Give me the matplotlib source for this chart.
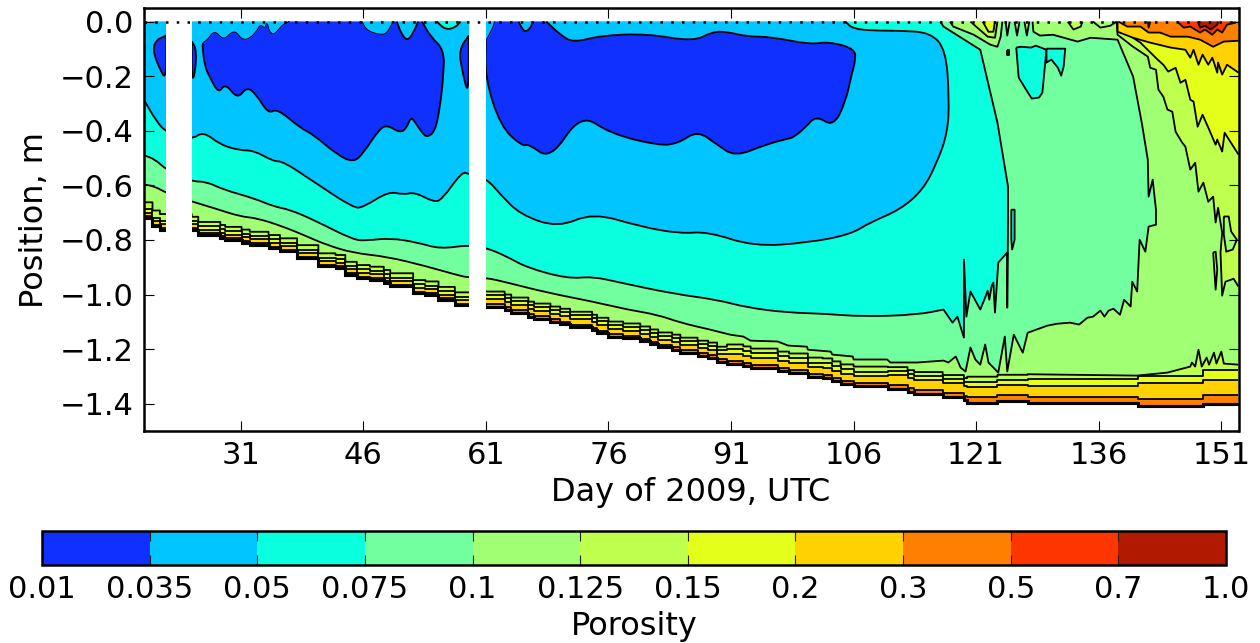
import numpy as np
import matplotlib
matplotlib.use("Agg")
import matplotlib.pyplot as plt
from matplotlib.colors import ListedColormap, BoundaryNorm
from matplotlib.cm import ScalarMappable
from matplotlib.path import Path
from matplotlib.patches import PathPatch

LEVELS = [0.01, 0.035, 0.05, 0.075, 0.1, 0.125, 0.15, 0.2, 0.3, 0.5, 0.7, 1.0]
LEVEL_LABELS = ['0.01', '0.035', '0.05', '0.075', '0.1', '0.125', '0.15', '0.2', '0.3', '0.5', '0.7', '1.0']
COLORS = ['#0f30ff', '#00c5ff', '#0affde', '#72ffa0', '#a0ff72', '#bfff4e',
          '#e4ff1a', '#ffd200', '#ff8000', '#ff3500', '#b21a00']
C_BLUE, C_SKY, C_CYAN, C_GREEN, C_LGREEN, C_LIME, C_YELLOW, C_GOLD, C_ORANGE, C_RED, C_DARK = COLORS

DAY_TICKS = [31, 46, 61, 76, 91, 106, 121, 136, 151]
DEPTH_TICKS = [0.0, -0.2, -0.4, -0.6, -0.8, -1.0, -1.2, -1.4]
XMIN, XMAX = 19.1, 153.1
YMIN, YMAX = -1.5, 0.05
GAPS = [(21.9, 25.0), (58.9, 61.0)]

# Stepped layers near the base of the ice: day of each step and the depth of each contour
STEP_DAYS = [19.1, 20.2, 21.1, 25.0, 25.8, 28.5, 29.1, 31.1, 32.1, 34.4, 35.8, 37.9, 40.5, 42.6, 43.8, 45.2,
             46.8, 48.5, 49.3, 52.1, 53.6, 55.2, 57.2, 60.9, 63.3, 64.1, 66.2, 66.9, 68.9, 70.1, 71.3, 74.0,
             74.6, 76.0, 77.8, 79.9, 81.1, 82.1, 83.8, 84.8, 86.9, 88.2, 89.3, 90.5, 92.5, 93.4, 96.7, 98.1,
             100.4, 102.2, 103.4, 104.4, 106.0, 110.2, 112.6, 113.4, 116.9, 119.5, 119.9, 123.6, 127.3,
             140.8, 148.8]
Z_BOTTOM = [-.720, -.750, -.763, -.763, -.782, -.793, -.800, -.810, -.818, -.830, -.842, -.867, -.897, -.903,
            -.928, -.940, -.946, -.958, -.970, -.995, -1.000, -1.020, -1.040, -1.044, -1.055, -1.066, -1.081,
            -1.088, -1.099, -1.107, -1.118, -1.129, -1.140, -1.154, -1.161, -1.172, -1.183, -1.194, -1.202,
            -1.213, -1.224, -1.231, -1.246, -1.253, -1.260, -1.268, -1.279, -1.286, -1.301, -1.304, -1.315,
            -1.326, -1.334, -1.345, -1.356, -1.363, -1.374, -1.385, -1.396, -1.389, -1.396, -1.407, -1.400]
Z_030 = [-.714, -.744, -.757, -.757, -.776, -.787, -.794, -.804, -.812, -.824, -.836, -.861, -.891, -.897,
         -.922, -.934, -.940, -.952, -.964, -.989, -.994, -1.014, -1.034, -1.036, -1.047, -1.058, -1.073,
         -1.080, -1.091, -1.099, -1.110, -1.121, -1.132, -1.146, -1.153, -1.164, -1.175, -1.186, -1.194,
         -1.205, -1.216, -1.223, -1.238, -1.243, -1.250, -1.258, -1.269, -1.276, -1.291, -1.294, -1.305,
         -1.316, -1.324, -1.332, -1.343, -1.350, -1.361, -1.372, -1.374, -1.367, -1.377, -1.383, -1.367]
Z_020 = [-.700, -.730, -.743, -.743, -.762, -.773, -.780, -.790, -.798, -.810, -.822, -.847, -.877, -.883,
         -.908, -.920, -.926, -.938, -.950, -.975, -.980, -1.000, -1.020, -1.017, -1.028, -1.039, -1.054,
         -1.061, -1.072, -1.080, -1.091, -1.102, -1.113, -1.127, -1.134, -1.145, -1.156, -1.167, -1.175,
         -1.186, -1.197, -1.204, -1.219, -1.218, -1.225, -1.233, -1.244, -1.251, -1.266, -1.269, -1.280,
         -1.291, -1.299, -1.296, -1.307, -1.314, -1.325, -1.336, -1.337, -1.330, -1.334, -1.324, -1.312]
Z_015 = [-.688, -.718, -.731, -.731, -.750, -.761, -.768, -.778, -.786, -.798, -.810, -.835, -.865, -.871,
         -.896, -.908, -.914, -.926, -.938, -.963, -.968, -.988, -1.008, -1.002, -1.013, -1.024, -1.039,
         -1.046, -1.057, -1.065, -1.076, -1.087, -1.098, -1.112, -1.119, -1.130, -1.141, -1.152, -1.160,
         -1.171, -1.182, -1.189, -1.204, -1.201, -1.208, -1.216, -1.227, -1.234, -1.249, -1.252, -1.263,
         -1.274, -1.282, -1.281, -1.292, -1.299, -1.310, -1.321, -1.319, -1.312, -1.311, -1.300, -1.275]
Z_0125 = [-.662, -.692, -.705, -.715, -.734, -.745, -.752, -.762, -.770, -.782, -.794, -.819, -.849, -.855,
          -.880, -.892, -.898, -.910, -.922, -.947, -.952, -.972, -.992, -.989, -1.000, -1.011, -1.026,
          -1.033, -1.044, -1.052, -1.063, -1.074, -1.085, -1.099, -1.106, -1.117, -1.128, -1.139, -1.147,
          -1.158, -1.169, -1.176, -1.191, -1.183, -1.190, -1.198, -1.209, -1.216, -1.231, -1.234, -1.245,
          -1.256, -1.264, -1.266, -1.277, -1.284, -1.295, -1.306, -1.301, -1.294]
Z_0125_LATE = [(127.3, -1.292), (140.7, -1.297), (144.4, -1.286), (147.2, -1.264), (147.4, -1.249), (147.8, -1.264),
               (148.2, -1.202), (148.6, -1.264), (149.2, -1.231), (149.5, -1.257), (150.1, -1.213), (150.4, -1.253),
               (151.0, -1.209), (151.3, -1.253), (153.1, -1.257)]

# Contours read as (day, depth)
CURVE_01 = [(19.1, -.596), (20.5, -.604), (21.9, -.628), (25, -.659), (27.7, -.683), (30.9, -.714), (33, -.72),
            (36.2, -.751), (39.1, -.787), (41.5, -.818), (44.8, -.848), (48.9, -.861), (53.8, -.897), (57.4, -.928),
            (58.9, -.938), (61, -.938), (63.6, -.956), (68.5, -.993), (74.1, -1.026), (78.3, -1.055), (82, -1.074),
            (84.8, -1.103), (88.5, -1.129), (90.9, -1.147), (92.5, -1.154), (93.4, -1.169), (96.7, -1.172),
            (98, -1.187), (100.3, -1.191), (100.4, -1.202), (103.2, -1.209), (103.4, -1.22), (105.9, -1.227),
            (106, -1.238), (110.1, -1.238), (110.5, -1.249), (113.8, -1.249), (117, -1.242), (117.6, -1.249),
            (118.5, -1.227), (119.1, -1.268), (119.7, -1.282), (120.3, -1.194), (120.9, -1.238), (121.5, -1.257),
            (122.1, -1.183), (122.5, -1.249), (123.7, -1.286), (124.5, -1.154), (124.8, -1.282), (125.6, -1.147),
            (126.7, -1.213), (127.3, -1.14), (129.7, -1.114), (130.9, -1.107), (132.5, -1.103), (133.6, -1.11),
            (134.6, -1.085), (135.3, -1.081), (136.2, -1.059), (136.7, -1.081), (137.2, -1.059), (137.8, -1.052),
            (138.6, -1.074), (139.1, -1.019), (139.9, -1.044), (140.1, -.953), (140.7, -.989), (141, -.799),
            (141.7, -.843), (142.1, -.751), (143, -.744), (143, -.689), (142.6, -.579), (142.1, -.641), (142, -.506),
            (141.3, -.377), (140.2, -.201), (138.3, -.066), (135, -.059), (133.4, -.073), (130.4, -.048),
            (128.8, -.051), (128, -.037), (127.9, 0)]
TOP_LG = [(117.8, 0), (118.2, -.018), (120.7, -.048), (122.7, -.084), (123.6, -.092), (124, -.055), (124.2, 0)]
TOP_FINGER_1 = [(124.6, 0), (124.8, -.051), (125.1, 0)]
TOP_FINGER_2 = [(125.7, 0), (126, -.051), (126.3, 0)]
TOP_FINGER_3 = [(126.9, 0), (127.2, -.051), (127.5, 0)]
TOP_LIME_1 = [(120.3, 0), (122.4, -.055), (123.3, -.059), (123.6, 0)]
TOP_YELLOW = [(121.8, 0), (122.5, -.037), (123.1, -.037), (123.3, 0)]
TOP_LIME_2 = [(132.2, 0), (132.9, -.029), (133.8, -.018), (134, 0)]
TOP_LIME_3 = [(135.3, 0), (136.2, -.022), (137.4, -.015), (138.2, 0)]

CURVE_0125 = [(138.2, 0), (138.3, -.048), (140.2, -.092), (142, -.128), (142.3, -.169), (143, -.176), (143.3, -.249),
              (143.9, -.275), (144.4, -.322), (145, -.33), (145.4, -.403), (146.2, -.443), (146.6, -.458),
              (147.2, -.542), (147.8, -.517), (148.2, -.623), (148.8, -.59), (149.4, -.66), (150, -.641),
              (150.3, -.736), (150.6, -.682), (151.1, -.773), (150.9, -.846), (151.1, -1.004), (151.5, -.953),
              (152.5, -.942), (153.1, -.971)]
ISLAND_LG = [(151.3, -.714), (151.9, -.714), (152.2, -.769), (152.9, -.799), (152.4, -.835), (151.6, -.843), (151.3, -.78)]
ISLAND_LIME = [(150, -.846), (150.3, -.982), (150.5, -.909), (150.3, -.843)]
CURVE_015 = [(138.3, 0), (138.3, -.022), (141.1, -.077), (143.2, -.139), (143.9, -.158), (144.5, -.183), (145.4, -.169),
             (146, -.224), (146.6, -.213), (147.2, -.286), (147.6, -.293), (148.1, -.385), (148.7, -.341),
             (149.4, -.388), (150.3, -.451), (150.5, -.432), (151.1, -.476), (151.4, -.407), (152.1, -.44), (153.1, -.487)]
CURVE_02 = [(138.3, 0), (138.3, -.037), (140.2, -.059), (142.3, -.077), (144.8, -.095), (146.6, -.103), (147.2, -.132),
            (147.6, -.103), (148.2, -.158), (148.7, -.121), (149.4, -.158), (149.9, -.132), (150.5, -.187),
            (150.6, -.15), (151.1, -.194), (151.7, -.158), (153.1, -.187)]
CURVE_03 = [(138.4, 0), (139.5, -.018), (141.1, -.018), (142.1, -.04), (143.5, -.04), (144.8, -.055), (146.9, -.055),
            (148.4, -.066), (150, -.092), (151.3, -.073), (153.1, -.07)]
RED_SPOT = [(142, 0), (142.1, -.022), (142.3, 0)]
CURVE_05 = [(145.6, 0), (146.4, -.022), (147.2, -.018), (148.4, -.04), (149, -.029), (149.9, -.048), (150.5, -.029),
            (151.1, -.04), (151.7, -.011), (152.7, -.004), (152.7, 0)]
CURVE_07 = [(148.1, 0), (148.4, -.022), (149, -.015), (149.7, -.029), (150.5, -.011), (150.6, 0)]

CURVE_0075 = [(19.1, -.489), (20.5, -.504), (21.9, -.543), (25, -.586), (26.8, -.586), (28.9, -.616), (32.6, -.647),
              (35, -.677), (37, -.689), (39.9, -.726), (44.8, -.8), (46.4, -.802), (49.3, -.793), (52.6, -.809),
              (55.4, -.833), (58.9, -.818), (61, -.828), (63.6, -.861), (66, -.901), (71, -.942), (74.1, -.934),
              (77.4, -.956), (83.9, -.997), (89.3, -1.019), (93, -1.048), (97.9, -1.066), (102.3, -1.07),
              (107.2, -1.081), (113.8, -1.074), (117, -1.055), (118.1, -1.103), (118.7, -1.081), (119.5, -1.158),
              (119.5, -.872), (119.8, -1.081), (120.3, -.989), (121.5, -1.055), (122.1, -1.011), (122.4, -.986),
              (122.6, -1.019), (122.9, -.967), (123.1, -.956), (123.3, -1.066), (123.7, -.883), (124.8, -.846),
              (124.8, -1.048), (124.9, -.725), (124.9, -.605), (123.6, -.37), (121.5, -.103), (117, -.018), (116.6, 0)]
BLOB_CYAN_1 = [(125.3, -.689), (125.7, -.689), (125.7, -.799), (125.4, -.835), (125.3, -.799)]
BLOB_CYAN_2 = [(125.9, -.095), (126.5, -.092), (127.7, -.095), (128.3, -.088), (129.6, -.103), (129.1, -.26),
               (128.7, -.278), (127.8, -.282), (127.1, -.249), (126.2, -.205)]
BLOB_CYAN_3 = [(129.6, -.099), (131.9, -.099), (131.7, -.165), (131.4, -.198), (131, -.169), (130.2, -.139), (129.6, -.15)]
BLOB_CYAN_4 = [(124.8, -.103), (125, -.103), (125, -.121), (124.8, -.121)]

CURVE_005 = [(19.1, -.284), (20.7, -.366), (21.9, -.406), (25, -.433), (26.4, -.402), (28.5, -.451), (30.9, -.472),
             (32.6, -.472), (35, -.512), (36.2, -.512), (39.9, -.586), (44.8, -.683), (46, -.68), (49.1, -.622),
             (50.9, -.634), (52.3, -.625), (54.6, -.661), (55.6, -.653), (58.1, -.549), (58.9, -.559), (61.1, -.575),
             (62.8, -.634), (65.2, -.707), (69.8, -.755), (74.1, -.7), (79.9, -.751), (84.8, -.777), (88.1, -.769),
             (93.8, -.824), (100.4, -.81), (105.6, -.78), (108, -.736), (111.7, -.689), (114.5, -.616), (116.2, -.517),
             (117.5, -.407), (117.7, -.286), (117.3, -.103), (115.4, -.04), (111.7, -.033), (108.4, -.033),
             (105.9, -.026), (105, 0)]
PATCH_CYAN = [(55, 0), (56, -.029), (57.2, -.023), (57.9, 0)]

BLOB_DARK_1 = [(21.9, -.05), (21.5, -.057), (20.7, -.066), (20.2, -.103), (21.1, -.176), (21.9, -.213)]
BLOB_DARK_2 = [(25, -.072), (25.6, -.103), (25.4, -.194), (25, -.215)]
BLOB_DARK_3 = [(26.4, -.078), (27, -.066), (27.8, -.032), (28.9, -.072), (30.2, -.029), (31.1, -.068), (32.1, -.064),
               (33, -.035), (33.4, -.011), (34, -.029), (34.2, 0), (34.4, -.035), (35, -.051), (35.7, -.029),
               (36.2, -.011), (37, 0), (45.8, 0), (46.4, -.035), (48.3, -.051), (48.9, -.042), (49.3, -.023),
               (49.7, 0), (50.1, 0), (50.7, -.048), (51.4, -.07), (52.1, -.042), (52.7, 0), (53.2, 0), (54.2, -.054),
               (55.9, -.103), (55.8, -.2), (55.4, -.31), (54.8, -.402), (53.8, -.424), (53.2, -.408), (52.3, -.366),
               (51.8, -.35), (51.3, -.39), (50.5, -.408), (48.9, -.378), (47.9, -.396), (46, -.482), (44.8, -.516),
               (42.8, -.488), (39.9, -.414), (38.3, -.39), (35.4, -.317), (34.4, -.339), (32.8, -.262), (31.7, -.24),
               (30.6, -.284), (29.1, -.225), (28.3, -.264), (27.2, -.203), (26.6, -.164), (26.3, -.09)]
BLOB_DARK_4 = [(58.9, -.051), (57.7, -.103), (58.1, -.182), (58.9, -.276)]
BLOB_DARK_5 = [(61, -.073), (61.9, -.022), (62.1, 0), (65, 0), (65.5, -.029), (65.9, -.037), (66.5, -.022), (66.7, 0),
               (68.4, 0), (70.1, -.048), (71.7, -.077), (75, -.051), (80.7, -.044), (86.4, -.073), (88.7, -.037),
               (90.5, -.037), (93, -.055), (95.8, -.055), (100.7, -.084), (102.9, -.073), (106.2, -.099),
               (106.2, -.147), (105.8, -.187), (105, -.297), (103.5, -.385), (101.4, -.344), (100.1, -.388),
               (98.6, -.425), (97.9, -.429), (95.2, -.451), (91.5, -.495), (89.3, -.451), (86.9, -.399), (84.5, -.447),
               (82.1, -.454), (76.2, -.41), (72.6, -.337), (68.9, -.506), (66.2, -.447), (65.5, -.458), (62.8, -.385),
               (60.9, -.205)]

plt.rcParams['font.family'] = 'DejaVu Sans'
W, H = 1260, 643
fig = plt.figure(figsize=(W / 100, H / 100), dpi=100)
ax = fig.add_axes([143.5 / W, 1 - 431.0 / H, (1238.5 - 143.5) / W, (431.0 - 8.0) / H])
ax.set_xlim(XMIN, XMAX)
ax.set_ylim(YMIN, YMAX)
ax.set_axisbelow(False)

order = [1.0]


def next_z():
    order[0] += 0.005
    return order[0]


def stair(days, depths, end):
    pts = []
    for i, z in enumerate(depths):
        stop = days[i + 1] if i + 1 < len(days) else end
        pts += [(days[i], z), (stop, z)]
    return pts


def run_path(run, smooth_until):
    """Vertices and codes of one contour run; vertices before smooth_until act as spline controls."""
    verts, codes = [run[0]], [Path.MOVETO]
    k = 0
    if smooth_until is not None:
        while k + 1 < len(run) and run[k + 1][0] <= smooth_until:
            k += 1
    if smooth_until == np.inf:
        k = len(run) - 1
    if k >= 2:
        mid = lambda a, b: ((a[0] + b[0]) / 2, (a[1] + b[1]) / 2)
        verts.append(mid(run[0], run[1]))
        codes.append(Path.LINETO)
        for i in range(1, k):
            verts += [run[i], mid(run[i], run[i + 1])]
            codes += [Path.CURVE3, Path.CURVE3]
        verts.append(run[k])
        codes.append(Path.LINETO)
        rest = run[k + 1:]
    else:
        rest = run[1:]
    for p in rest:
        verts.append(p)
        codes.append(Path.LINETO)
    return verts, codes


def region(pts, color, closure=(), closed=False, lw=1.3, smooth_until=None):
    """Fill a contour band and stroke its contour, leaving the surface line unstroked."""
    line = list(pts) + ([pts[0]] if closed else [])
    runs, cur = [], [line[0]]
    for a, b in zip(line[:-1], line[1:]):
        if a[1] == 0 and b[1] == 0:
            runs.append(cur)
            cur = [b]
        else:
            cur.append(b)
    runs.append(cur)
    fill_v, fill_c = [], []
    for run in runs:
        if len(run) < 2:
            fill_v.append(run[0])
            fill_c.append(Path.MOVETO if not fill_v[:-1] else Path.LINETO)
            continue
        v, c = run_path(run, smooth_until)
        if fill_v:
            c = [Path.LINETO] + c[1:]
        fill_v += v
        fill_c += c
        s_v, s_c = run_path(run, smooth_until)
        ax.add_patch(PathPatch(Path(s_v, s_c), facecolor='none', edgecolor='black', lw=lw,
                               joinstyle='round', zorder=next_z() + 0.002))
    for p in closure:
        fill_v.append(p)
        fill_c.append(Path.LINETO)
    fill_v.append(fill_v[0])
    fill_c.append(Path.CLOSEPOLY)
    ax.add_patch(PathPatch(Path(fill_v, fill_c), facecolor=color, edgecolor='none', lw=0, zorder=next_z() - 0.008))


TOP = [(XMAX, 0), (XMIN, 0)]
TOP_LEFT = [(XMIN, 0)]
TOP_RIGHT = [(XMAX, 0)]
SMOOTH = np.inf

bottom_pts = stair(STEP_DAYS, Z_BOTTOM, XMAX)
region(bottom_pts, C_ORANGE, TOP, lw=2.2)
region(stair(STEP_DAYS, Z_030, XMAX), C_GOLD, TOP)
region(stair(STEP_DAYS, Z_020, XMAX), C_YELLOW, TOP)
region(stair(STEP_DAYS, Z_015, XMAX), C_LIME, TOP)
region(stair(STEP_DAYS[:len(Z_0125)], Z_0125, Z_0125_LATE[0][0]) + Z_0125_LATE, C_LGREEN, TOP)

region(CURVE_0125, C_LIME, TOP_RIGHT)
region(ISLAND_LG, C_LGREEN, closed=True)
region(ISLAND_LIME, C_LIME, closed=True)
region(CURVE_015, C_YELLOW, TOP_RIGHT)
region(CURVE_02, C_GOLD, TOP_RIGHT)
region(CURVE_03, C_ORANGE, TOP_RIGHT)
region(RED_SPOT, C_RED)
region(CURVE_05, C_RED)
region(CURVE_07, C_DARK)

region(CURVE_01, C_GREEN, TOP_LEFT, smooth_until=88.5)
for pts in (TOP_LG, TOP_FINGER_1, TOP_FINGER_2, TOP_FINGER_3, TOP_LIME_3):
    region(pts, C_LGREEN)
region(TOP_LIME_1, C_LIME)
region(TOP_LIME_2, C_LIME)
region(TOP_YELLOW, C_YELLOW)

region(CURVE_0075, C_CYAN, TOP_LEFT, smooth_until=117)
for pts in (BLOB_CYAN_1, BLOB_CYAN_2, BLOB_CYAN_3, BLOB_CYAN_4):
    region(pts, C_CYAN, closed=True)
region(CURVE_005, C_SKY, TOP_LEFT, smooth_until=SMOOTH)
region(PATCH_CYAN, C_CYAN, smooth_until=SMOOTH)
for pts in (BLOB_DARK_1, BLOB_DARK_2, BLOB_DARK_3, BLOB_DARK_4, BLOB_DARK_5):
    region(pts, C_BLUE, closed=True, smooth_until=SMOOTH)

# Redraw the base line so the bands above it do not thin it
bx, bz = zip(*bottom_pts)
ax.plot(bx, bz, color='black', lw=2.2, solid_joinstyle='miter', zorder=2.2)

for start, stop in GAPS:
    ax.axvspan(start, stop, facecolor='white', edgecolor='none', zorder=2.3)
ax.plot([XMIN, XMAX], [0, 0], color='black', lw=1.8, linestyle=(0, (1, 3.3)), zorder=2.4)

TICK_FS, LABEL_FS = 22, 23
ax.set_xticks(DAY_TICKS)
ax.set_yticks(DEPTH_TICKS)
ax.set_yticklabels(['0.0' if t == 0 else '\u2212%.1f' % abs(t) for t in DEPTH_TICKS])
ax.tick_params(direction='in', length=7.5, width=0.8, top=True, right=True, labelsize=TICK_FS, pad=7)
ax.set_xlabel('Day of 2009, UTC', fontsize=LABEL_FS, labelpad=5)
ax.set_ylabel('Position, m', fontsize=LABEL_FS, labelpad=7)
for s in ax.spines.values():
    s.set_linewidth(1.8)

cax = fig.add_axes([42.0 / W, 1 - 565.0 / H, (1226.0 - 42.0) / W, (565.0 - 531.0) / H])
cmap = ListedColormap(COLORS)
norm = BoundaryNorm(LEVELS, cmap.N)
cb = fig.colorbar(ScalarMappable(norm=norm, cmap=cmap), cax=cax, orientation='horizontal',
                  spacing='uniform', ticks=LEVELS)
cb.ax.set_xticklabels(LEVEL_LABELS)
cb.ax.minorticks_off()
cb.ax.tick_params(axis='x', direction='in', length=7.5, width=0.8, top=True, bottom=True,
                  labelsize=TICK_FS, pad=7, color='#222222')
cb.outline.set_linewidth(1.8)
cb.set_label('Porosity', fontsize=LABEL_FS, labelpad=5)

fig.savefig('out.png', dpi=100)
